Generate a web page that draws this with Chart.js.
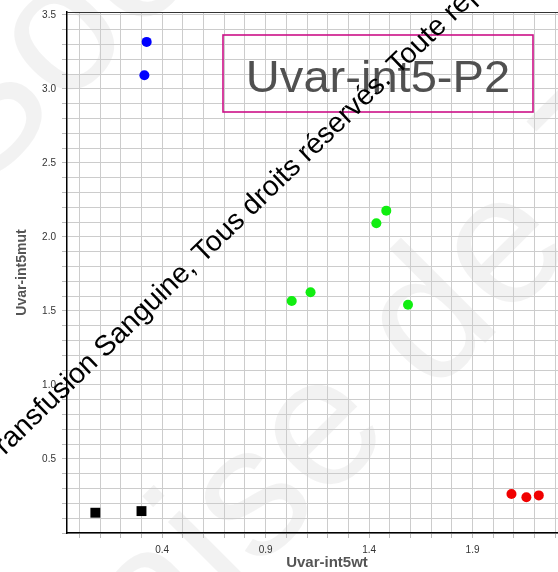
<!DOCTYPE html>
<html>
<head>
<meta charset="utf-8">
<script src="https://cdn.jsdelivr.net/npm/chart.js@4"></script>
<style>
  html, body { margin: 0; padding: 0; background: #fff; overflow: hidden; }
  #wrap { width: 594px; height: 572px; }
</style>
</head>
<body>
<div id="wrap"><canvas id="grafico" width="594" height="572"></canvas></div>
<script>
// valeurs
const blueX = [0.325, 0.314];
const blueY = [3.318, 3.093];
const greenX = [1.026, 1.117, 1.435, 1.483, 1.588];
const greenY = [1.567, 1.627, 2.093, 2.178, 1.542];
const redX = [2.088, 2.160, 2.220];
const redY = [0.263, 0.241, 0.254];
const blackX = [0.077, 0.300];
const blackY = [0.137, 0.148];

const titreX = 'Uvar-int5wt';
const titreY = 'Uvar-int5mut';
const titreBoite = 'Uvar-int5-P2';

const X_MIN = -0.06, X_MAX = 2.453;
const Y_MIN = 0, Y_MAX = 3.52;

const police = '"Liberation Sans", Arial, sans-serif';

function points(xs, ys) {
    return xs.map((x, i) => ({ x, y: ys[i] }));
}

function serie(xs, ys, couleur, forme, rayon) {
    return {
        data: points(xs, ys),
        pointStyle: forme,
        pointRadius: rayon,
        pointBackgroundColor: couleur,
        pointBorderWidth: 0,
        showLine: false
    };
}

// filigrane pale derriere la grille
const filigraneFond = {
    id: 'filigraneFond',
    beforeDraw(chart) {
        const ctx = chart.ctx;
        ctx.save();
        ctx.fillStyle = 'rgba(0,0,0,0.05)';
        ctx.font = '185px ' + police;
        ctx.textBaseline = 'alphabetic';

        ctx.save();
        ctx.translate(359, 469);
        ctx.rotate(-Math.PI / 4);
        let dx = ctx.measureText('Français').width + ctx.measureText('e').width / 2;
        ctx.fillText('Française de Transfusion', -dx, 0);
        ctx.restore();

        ctx.save();
        ctx.translate(99, 74);
        ctx.rotate(-Math.PI / 4);
        dx = ctx.measureText('S').width + ctx.measureText('o').width / 2;
        ctx.fillText('Société Française', -dx, 0);
        ctx.restore();

        ctx.restore();
    }
};

// cadre haut, boite du titre + texte noir en diagonale
const boiteEtTexte = {
    id: 'boiteEtTexte',
    afterDraw(chart) {
        const ctx = chart.ctx;
        const a = chart.chartArea;
        ctx.save();
        ctx.strokeStyle = '#333';
        ctx.lineWidth = 1;
        ctx.beginPath();
        ctx.moveTo(a.left, a.top + 0.5);
        ctx.lineTo(a.right, a.top + 0.5);
        ctx.stroke();

        ctx.strokeStyle = '#cc1188';
        ctx.lineWidth = 1.6;
        ctx.strokeRect(223, 35, 310, 77);
        ctx.fillStyle = '#505050';
        ctx.font = '44px ' + police;
        ctx.textAlign = 'center';
        ctx.textBaseline = 'alphabetic';
        ctx.translate(378, 92);
        ctx.scale(1.07, 1);
        ctx.fillText(titreBoite, 0, 0);
        ctx.restore();

        ctx.save();
        ctx.fillStyle = '#000';
        ctx.font = '28.5px ' + police;
        ctx.textAlign = 'left';
        ctx.textBaseline = 'alphabetic';
        ctx.translate(203, 264);
        ctx.rotate(-44 * Math.PI / 180);
        const prefixe = 'Société Française de Transfusion Sanguine, ';
        const dx = ctx.measureText(prefixe).width;
        ctx.fillText(prefixe + 'Tous droits réservés. Toute reproduction interdite', -dx, 0);
        ctx.restore();
    }
};

function etiquetteX(value) {
    const v = Math.round(value * 10) / 10;
    if (Math.abs(value - v) > 1e-6) return '';
    return Math.round(v * 10 + 1) % 5 === 0 ? v.toFixed(1) : '';
}

function etiquetteY(value) {
    const v = Math.round(value * 10) / 10;
    if (Math.abs(value - v) > 1e-6 || v <= 0) return '';
    return Math.round(v * 10) % 5 === 0 ? v.toFixed(1) : '';
}

const ctx = document.getElementById('grafico').getContext('2d');
new Chart(ctx, {
    type: 'scatter',
    data: {
        datasets: [
            serie(blueX, blueY, '#0000ff', 'circle', 5),
            serie(greenX, greenY, '#11ee11', 'circle', 5),
            serie(redX, redY, '#f00000', 'circle', 5),
            serie(blackX, blackY, '#000000', 'rect', 7)
        ]
    },
    options: {
        responsive: false,
        animation: false,
        devicePixelRatio: 1,
        layout: { padding: { top: 11, right: 1, left: 0, bottom: 0 } },
        plugins: {
            legend: { display: false },
            tooltip: { enabled: false }
        },
        scales: {
            x: {
                type: 'linear',
                min: X_MIN,
                max: X_MAX,
                afterFit(scale) { scale.height = 39; },
                grid: { color: '#cccccc', lineWidth: 1, tickLength: 5, tickColor: '#bbbbbb' },
                border: { color: '#000', width: 1.5 },
                ticks: {
                    stepSize: 0.1,
                    includeBounds: false,
                    autoSkip: false,
                    maxRotation: 0,
                    padding: 6,
                    color: '#333',
                    font: { family: police, size: 10 },
                    callback: etiquetteX
                },
                title: {
                    display: true,
                    text: titreX,
                    color: '#555',
                    font: { family: police, size: 15, weight: 'bold' },
                    padding: { top: 2, bottom: 0 }
                }
            },
            y: {
                type: 'linear',
                min: Y_MIN,
                max: Y_MAX,
                afterFit(scale) { scale.width = 67; },
                grid: { color: '#cccccc', lineWidth: 1, tickLength: 5, tickColor: '#bbbbbb' },
                border: { color: '#000', width: 1.5 },
                ticks: {
                    stepSize: 0.1,
                    includeBounds: false,
                    autoSkip: false,
                    padding: 6,
                    color: '#333',
                    font: { family: police, size: 10 },
                    callback: etiquetteY
                },
                title: {
                    display: true,
                    text: titreY,
                    color: '#555',
                    font: { family: police, size: 14, weight: 'bold' },
                    padding: { top: 14, bottom: 0 }
                }
            }
        }
    },
    plugins: [filigraneFond, boiteEtTexte]
});
</script>
</body>
</html>
